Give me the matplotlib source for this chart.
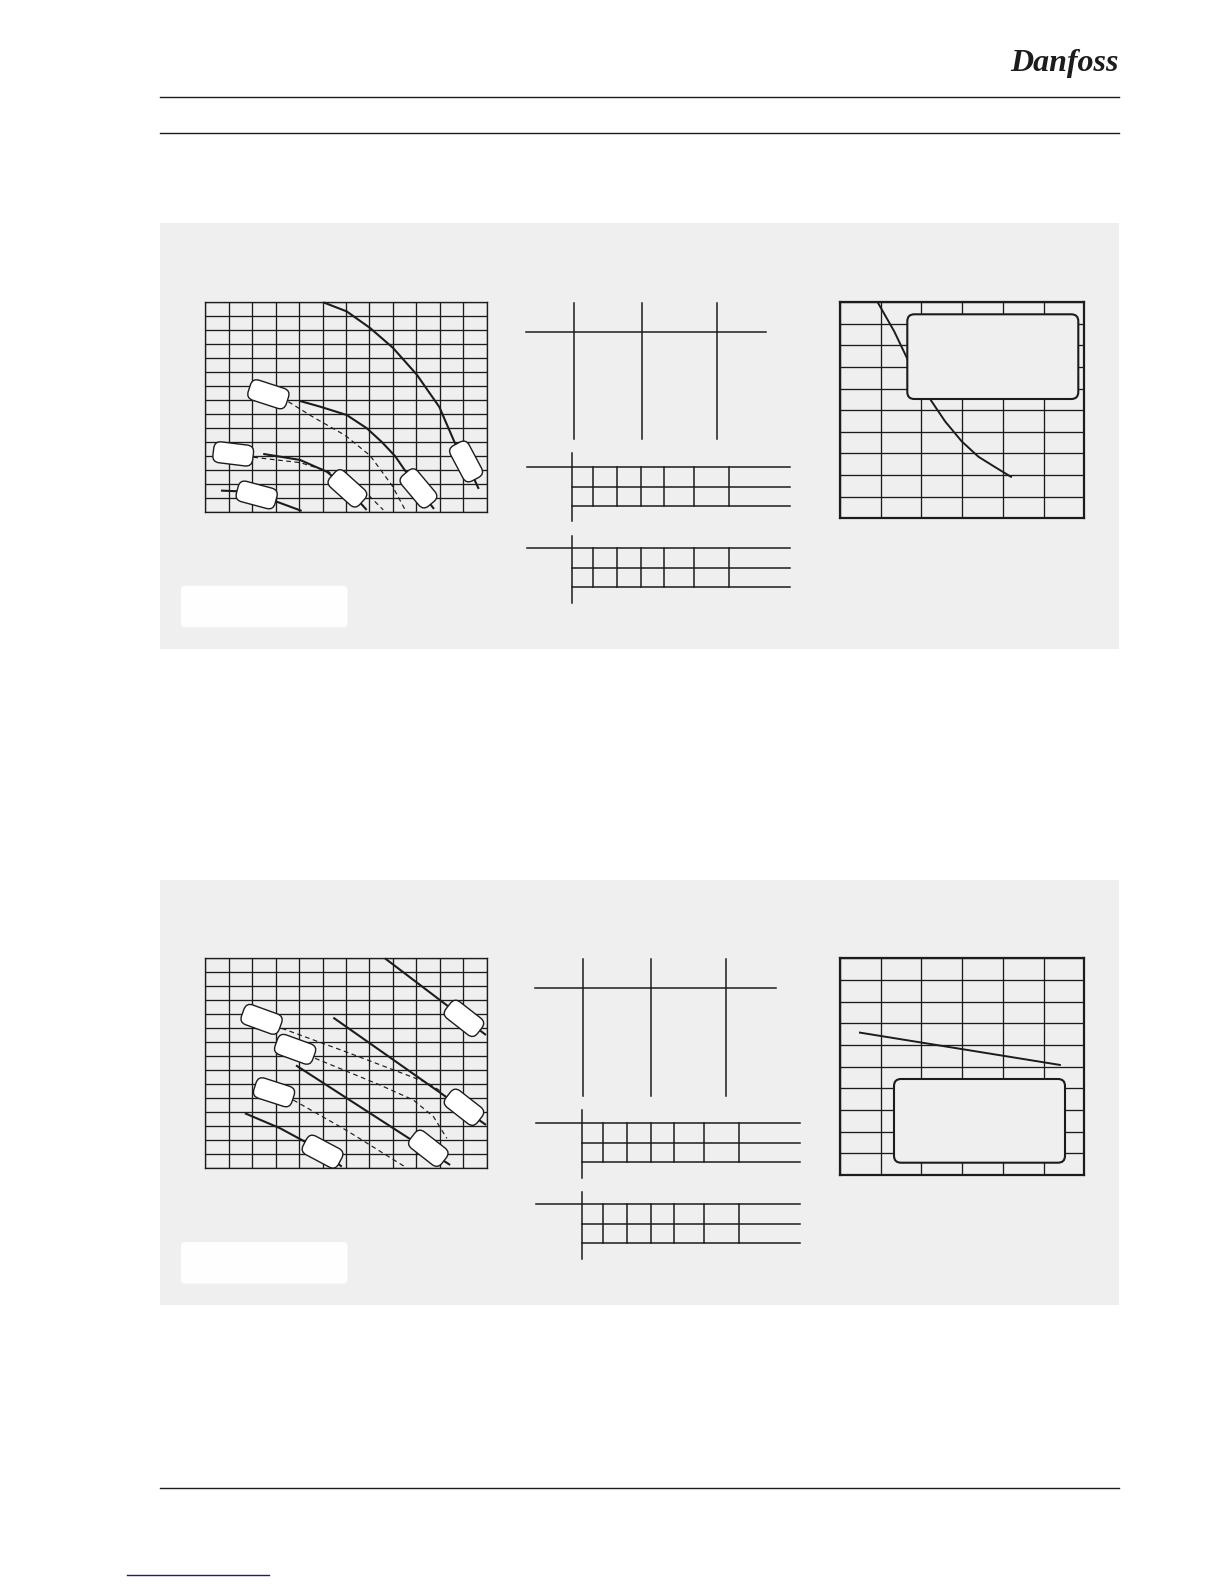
import matplotlib
matplotlib.use("Agg")
import matplotlib.pyplot as plt
from matplotlib.patches import Rectangle, FancyBboxPatch
from matplotlib.transforms import Affine2D, ScaledTranslation

W, H = 1224, 1584
INK = "#1c1c1c"
PANEL = "#efefef"

# ---- top panel, left chart (12 x 15 grid)
top_a_x = [5.03, 6.03, 7.03, 8.0, 9.02, 9.98, 10.63, 11.12, 11.66]
top_a_y = [15.0, 14.35, 13.16, 11.75, 9.83, 7.52, 5.0, 3.63, 1.67]
top_b_x = [4.04, 4.89, 6.03, 6.89, 7.54, 8.1, 8.51, 9.09, 9.75]
top_b_y = [7.95, 7.55, 6.95, 6.0, 5.0, 4.0, 3.0, 1.71, 0.24]
top_b_dash_x = [3.54, 4.6, 5.96, 7.03, 7.97, 8.5]
top_b_dash_y = [7.9, 6.8, 5.5, 4.05, 1.9, 0.24]
top_c_x = [2.47, 4.04, 5.18, 6.06, 6.88]
top_c_y = [4.17, 3.74, 2.9, 1.71, 0.17]
top_c_dash_x = [2.05, 4.04, 5.2, 5.74, 6.88, 7.59]
top_c_dash_y = [3.93, 3.55, 2.95, 2.43, 1.36, 0.17]
top_d_x = [0.67, 1.4, 2.19, 3.04, 4.11]
top_d_y = [1.55, 1.5, 1.24, 0.76, 0.1]
top_tag_x = [11.12, 2.69, 9.09, 6.06, 1.19, 2.19]
top_tag_y = [3.63, 8.43, 1.71, 1.71, 4.17, 1.24]
top_tag_ang = [-62, -18, -50, -42, -7, -15]

# ---- bottom panel, left chart (12 x 15 grid)
bot_l1_x = [7.66, 11.97]
bot_l1_y = [15.0, 9.52]
bot_l2_x = [5.46, 11.97]
bot_l2_y = [10.76, 3.1]
bot_l3_x = [3.87, 10.44]
bot_l3_y = [7.35, 0.24]
bot_l4_x = [1.69, 3.19, 4.25, 5.0, 5.82]
bot_l4_y = [3.93, 2.86, 1.9, 1.19, 0.12]
bot_d1_x = [3.26, 6.03, 9.45, 10.1]
bot_d1_y = [10.0, 8.3, 6.12, 5.45]
bot_d2_x = [4.68, 7.45, 8.87, 9.73, 10.3]
bot_d2_y = [7.86, 5.95, 4.88, 3.69, 2.14]
bot_d3_x = [3.75, 6.03, 8.52]
bot_d3_y = [4.88, 2.7, 0.1]
bot_tag_x = [2.40, 3.83, 2.93, 5.0, 9.51, 11.03, 11.03]
bot_tag_y = [10.64, 8.5, 5.43, 1.19, 1.43, 4.36, 10.71]
bot_tag_ang = [-20, -20, -18, -28, -38, -38, -38]

# ---- right charts (6 x 10 grid)
right_top_x = [0.94, 1.33, 1.69, 2.22, 2.58, 2.99, 3.4, 3.8, 4.2]
right_top_y = [9.95, 8.66, 7.24, 5.5, 4.49, 3.56, 2.85, 2.38, 1.92]
right_bot_x = [0.49, 5.4]
right_bot_y = [6.57, 5.08]

# table column offsets (px from the table axis)
tbl_cols = [21, 45, 68.4, 92, 122, 156.4]

fig = plt.figure(figsize=(W / 100, H / 100), dpi=100)
fig.patch.set_facecolor("white")

bg = fig.add_axes([0, 0, 1, 1])
bg.set_xlim(0, W)
bg.set_ylim(H, 0)
bg.axis("off")


def px_axes(x0, y0, x1, y1):
    return fig.add_axes([x0 / W, 1 - y1 / H, (x1 - x0) / W, (y1 - y0) / H])


def grid_axes(box, ncol, nrow, frame_lw):
    ax = px_axes(*box)
    ax.set_xlim(0, ncol)
    ax.set_ylim(0, nrow)
    ax.set_xticks(range(ncol + 1))
    ax.set_yticks(range(nrow + 1))
    ax.tick_params(length=0, labelbottom=False, labelleft=False)
    ax.grid(True, color=INK, lw=0.95)
    ax.patch.set_visible(False)
    for s in ax.spines.values():
        s.set_linewidth(frame_lw)
        s.set_color(INK)
    return ax


def tag(ax, x, y, ang, w=40, h=21):
    tr = Affine2D().rotate_deg(ang) + ScaledTranslation(x, y, ax.transData)
    ax.add_patch(FancyBboxPatch((-w / 2, -h / 2), w, h,
                                boxstyle="round,pad=0,rounding_size=7",
                                fc="white", ec=INK, lw=1.0, transform=tr,
                                zorder=6, clip_on=False))


def solid(ax, x, y):
    ax.plot(x, y, color=INK, lw=1.5, solid_capstyle="butt", solid_joinstyle="round",
            zorder=4, clip_on=False)


def dashed(ax, x, y):
    ax.plot(x, y, color=INK, lw=0.85, ls=(0, (4, 3)), zorder=4, clip_on=False)


def draw_table(xa, y_rows, x_left, x_right, y_axis_top, y_axis_bot):
    bg.plot([xa, xa], [y_axis_top, y_axis_bot], color=INK, lw=1.1)
    bg.plot([x_left, x_right], [y_rows[0], y_rows[0]], color=INK, lw=1.1)
    for yr in y_rows[1:]:
        bg.plot([xa, x_right], [yr, yr], color=INK, lw=1.1)
    for c in tbl_cols:
        bg.plot([xa + c, xa + c], [y_rows[0], y_rows[-1]], color=INK, lw=1.1)


def draw_head_table(y_line, x_left, x_right, cols, y0, y1):
    bg.plot([x_left, x_right], [y_line, y_line], color=INK, lw=1.1)
    for c in cols:
        bg.plot([c, c], [y0, y1], color=INK, lw=1.1)


# header
bg.plot([159.5, 1119], [96.7, 96.7], color=INK, lw=1.0)
bg.plot([159.5, 1119], [133, 133], color=INK, lw=1.0)
bg.text(1064, 64, "Danfoss", fontsize=23, fontstyle="italic", fontweight="bold",
        family="Liberation Serif", ha="center", va="center", color=INK)

# grey panels and their white caption boxes
for top, bot in [(223.2, 649.2), (879.6, 1304.8)]:
    bg.add_patch(Rectangle((159.6, top), 959.4, bot - top, fc=PANEL, ec="none"))
    bg.add_patch(FancyBboxPatch((181, top + 362.5), 166.5, 41.5,
                                boxstyle="round,pad=0,rounding_size=4",
                                fc="#fefefe", ec="none"))

# footer
bg.plot([159.5, 1119], [1488.3, 1488.3], color=INK, lw=1.0)
bg.plot([126.7, 269], [1575, 1575], color="#1a1a8c", lw=1.0)

# ---------- top panel
ax = grid_axes((205.3, 302.3, 486.7, 512.3), 12, 15, 0.95)
solid(ax, top_a_x, top_a_y)
solid(ax, top_b_x, top_b_y)
dashed(ax, top_b_dash_x, top_b_dash_y)
solid(ax, top_c_x, top_c_y)
dashed(ax, top_c_dash_x, top_c_dash_y)
solid(ax, top_d_x, top_d_y)
for x, y, a in zip(top_tag_x, top_tag_y, top_tag_ang):
    tag(ax, x, y, a)

draw_head_table(332.3, 526, 765.7, [574, 641.7, 716.7], 302.7, 439.3)
draw_table(572.3, [467.3, 487.3, 506.3], 526.7, 790, 453.3, 520.7)
draw_table(572.3, [548.3, 568.3, 587], 526.7, 790, 536, 602.7)

ax3 = grid_axes((840, 302.3, 1084.3, 518.3), 6, 10, 1.6)
ax3.plot(right_top_x, right_top_y, color=INK, lw=1.4, solid_joinstyle="round", zorder=3)
ax3.add_patch(FancyBboxPatch((907.3, 314.3), 171, 84.7,
                             boxstyle="round,pad=0,rounding_size=7",
                             fc=PANEL, ec=INK, lw=1.5, transform=bg.transData,
                             zorder=5, clip_on=False))

# ---------- bottom panel
ax = grid_axes((205.3, 958.3, 486.7, 1168.3), 12, 15, 0.95)
solid(ax, bot_l1_x, bot_l1_y)
solid(ax, bot_l2_x, bot_l2_y)
solid(ax, bot_l3_x, bot_l3_y)
solid(ax, bot_l4_x, bot_l4_y)
dashed(ax, bot_d1_x, bot_d1_y)
dashed(ax, bot_d2_x, bot_d2_y)
dashed(ax, bot_d3_x, bot_d3_y)
for x, y, a in zip(bot_tag_x, bot_tag_y, bot_tag_ang):
    tag(ax, x, y, a)

draw_head_table(988.3, 535, 776, [583.3, 650.7, 725.7], 959.3, 1095.7)
draw_table(582.3, [1123, 1143, 1162.3], 536, 800, 1110, 1177.7)
draw_table(582.3, [1204.3, 1224.3, 1243.3], 536, 800, 1191.7, 1259)

ax3 = grid_axes((840, 958.3, 1084.3, 1175), 6, 10, 1.6)
ax3.plot(right_bot_x, right_bot_y, color=INK, lw=1.4, zorder=3)
ax3.add_patch(FancyBboxPatch((894, 1079), 171, 83.7,
                             boxstyle="round,pad=0,rounding_size=7",
                             fc=PANEL, ec=INK, lw=1.5, transform=bg.transData,
                             zorder=5, clip_on=False))

fig.savefig("out.png", dpi=100, facecolor="white")
